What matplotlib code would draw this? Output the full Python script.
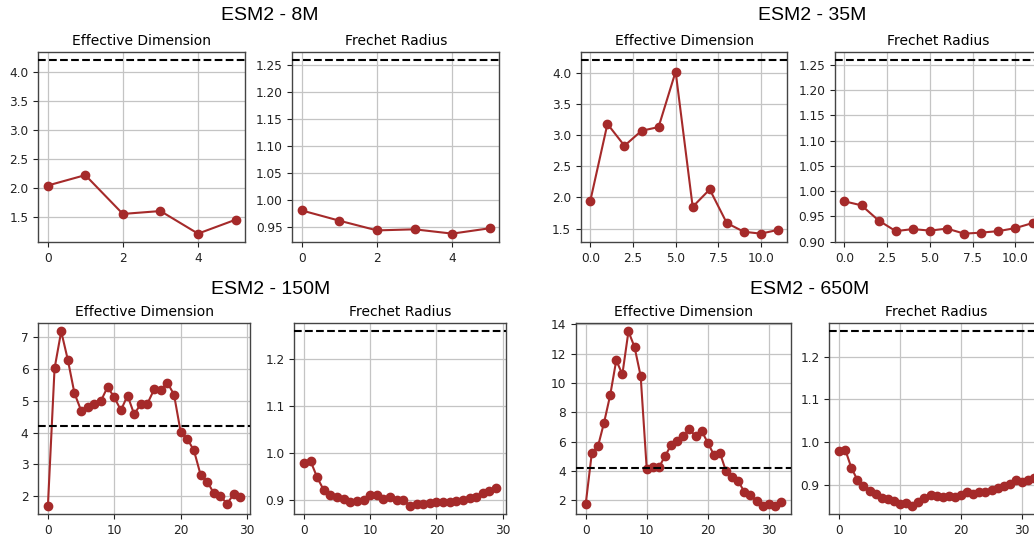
import matplotlib
matplotlib.use("Agg")
import matplotlib.pyplot as plt
from matplotlib.ticker import MultipleLocator

W, H = 1034, 537
DPI = 100

# ---------------- data ----------------
models = ["ESM2 - 8M", "ESM2 - 35M", "ESM2 - 150M", "ESM2 - 650M"]

ed_8m = [2.04, 2.22, 1.55, 1.60, 1.21, 1.45]
fr_8m = [0.981, 0.962, 0.944, 0.946, 0.938, 0.948]

ed_35m = [1.95, 3.18, 2.83, 3.07, 3.13, 4.02, 1.85, 2.13, 1.59, 1.45, 1.42, 1.48]
fr_35m = [0.980, 0.972, 0.942, 0.921, 0.925, 0.922, 0.926, 0.916, 0.918, 0.921, 0.927, 0.937]

ed_150m = [1.71, 6.01, 7.17, 6.28, 5.23, 4.69, 4.81, 4.91, 5.00, 5.43,
           5.10, 4.70, 5.16, 4.57, 4.90, 4.91, 5.35, 5.34, 5.56, 5.19,
           4.02, 3.80, 3.44, 2.68, 2.46, 2.10, 2.00, 1.77, 2.07, 1.98]
fr_150m = [0.978, 0.983, 0.948, 0.921, 0.910, 0.906, 0.901, 0.896, 0.897, 0.899,
           0.911, 0.911, 0.902, 0.906, 0.899, 0.899, 0.888, 0.892, 0.891, 0.894,
           0.896, 0.896, 0.895, 0.898, 0.899, 0.904, 0.906, 0.915, 0.920, 0.925]

ed_650m = [1.77, 5.25, 5.68, 7.30, 9.16, 11.55, 10.59, 13.52, 12.45, 10.48,
           4.11, 4.27, 4.25, 5.02, 5.77, 6.02, 6.36, 6.86, 6.36, 6.73,
           5.93, 5.11, 5.23, 3.98, 3.61, 3.34, 2.55, 2.36, 1.95, 1.64,
           1.77, 1.64, 1.86]
fr_650m = [0.980, 0.983, 0.941, 0.912, 0.897, 0.885, 0.879, 0.870, 0.868, 0.863,
           0.855, 0.859, 0.852, 0.860, 0.870, 0.876, 0.874, 0.873, 0.875, 0.873,
           0.877, 0.884, 0.880, 0.884, 0.884, 0.888, 0.894, 0.897, 0.902, 0.911,
           0.908, 0.911, 0.916]

ed_threshold = 4.2
fr_threshold = 1.259

subplot_titles = ["Effective Dimension", "Frechet Radius"]

# tick spacing per model: (x step, ED y step, FR y step)
tick_steps = [(2, 0.5, 0.05), (2.5, 0.5, 0.05), (10, 1, 0.1), (10, 2, 0.1)]

# ---------------- layout (pixel boxes: left, right, top, bottom) ----------------
boxes = {
    0: [(38.3, 245.0, 51.7, 242.3), (292.3, 499.3, 51.7, 242.3)],
    1: [(581.0, 787.3, 51.7, 242.3), (835.0, 1042.0, 51.7, 242.3)],
    2: [(38.3, 250.0, 322.7, 514.3), (294.3, 505.7, 322.7, 514.3)],
    3: [(576.0, 790.7, 322.7, 514.3), (829.3, 1044.0, 322.7, 514.3)],
}
sup_pos = {0: (270, 16), 1: (812, 16), 2: (271, 289), 3: (810, 289)}

data = [(ed_8m, fr_8m), (ed_35m, fr_35m), (ed_150m, fr_150m), (ed_650m, fr_650m)]

line_color = "#A52A2A"

fig = plt.figure(figsize=(W / DPI, H / DPI), dpi=DPI)

for gi, (ed, fr) in enumerate(data):
    xs, ys_ed, ys_fr = tick_steps[gi]
    for si, (vals, thr, ystep) in enumerate([(ed, ed_threshold, ys_ed), (fr, fr_threshold, ys_fr)]):
        l, r, t, b = boxes[gi][si]
        ax = fig.add_axes([l / W, 1 - b / H, (r - l) / W, (b - t) / H])
        x = list(range(len(vals)))
        ax.plot(x, vals, "-o", color=line_color, lw=1.5, ms=6, zorder=3)
        ax.axhline(thr, color="black", ls="--", lw=1.5, zorder=4)
        ax.xaxis.set_major_locator(MultipleLocator(xs))
        ax.yaxis.set_major_locator(MultipleLocator(ystep))
        ax.grid(True, color="#c4c4c4", lw=0.9)
        ax.set_axisbelow(True)
        ax.set_title(subplot_titles[si], fontsize=10, pad=5, family="DejaVu Sans")
        ax.tick_params(labelsize=8.7, length=3.5, width=0.8, colors="#222222")
        for sp in ax.spines.values():
            sp.set_color("#444444")
            sp.set_linewidth(1.0)
    cx, cy = sup_pos[gi]
    fig.text(cx / W, 1 - cy / H, models[gi], ha="center", va="center",
             fontsize=14, family="Liberation Sans")

fig.savefig("out.png", dpi=DPI)
